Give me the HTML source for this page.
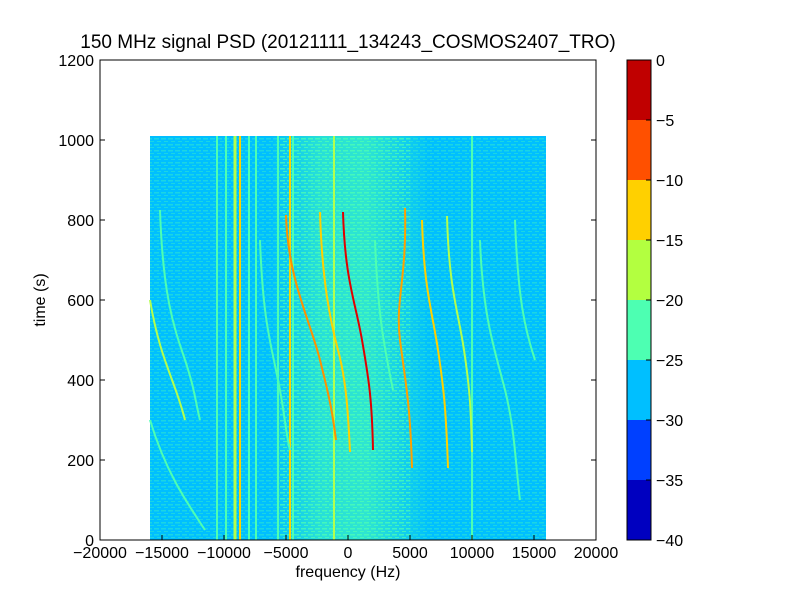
<!DOCTYPE html>
<html><head><meta charset="utf-8"><style>
body{margin:0;background:#fff;width:800px;height:600px;overflow:hidden}
text{font-family:"Liberation Sans",sans-serif;font-size:16px;fill:#000}
text.title{font-size:19px}
</style></head><body>
<svg width="800" height="600" viewBox="0 0 800 600" xmlns="http://www.w3.org/2000/svg">
<defs>
<pattern id="noise" width="7" height="6" patternUnits="userSpaceOnUse">
<rect x="0" y="0" width="5" height="1.5" fill="#4dffb2"/>
<rect x="3" y="3" width="4" height="1" fill="#4dffb2"/>
</pattern>
<linearGradient id="cg" x1="0" x2="1" y1="0" y2="0">
<stop offset="0" stop-color="#4dffb2" stop-opacity="0"/>
<stop offset="0.3" stop-color="#4dffb2" stop-opacity="0.5"/>
<stop offset="0.6" stop-color="#4dffb2" stop-opacity="0.6"/>
<stop offset="1" stop-color="#4dffb2" stop-opacity="0"/>
</linearGradient>
</defs>
<rect x="0" y="0" width="800" height="600" fill="#fff"/>
<rect x="150" y="136" width="396" height="404" fill="#00bfff"/>
<rect x="150" y="136" width="396" height="404" fill="url(#noise)" opacity="0.35"/>
<rect x="270" y="136" width="160" height="404" fill="url(#cg)"/>
<rect x="280" y="136" width="130" height="404" fill="url(#noise)" opacity="0.6"/>
<g stroke="#4dffb2" stroke-width="2">
<line x1="217" y1="136" x2="217" y2="540"/>
<line x1="226" y1="136" x2="226" y2="540"/>
<line x1="235" y1="136" x2="235" y2="540" stroke="#b3ff4d" stroke-width="3"/>
<line x1="240" y1="136" x2="240" y2="540" stroke="#ffd000" stroke-width="2"/>
<line x1="249" y1="136" x2="249" y2="540"/>
<line x1="256" y1="136" x2="256" y2="540"/>
<line x1="278" y1="136" x2="278" y2="540"/>
<line x1="290" y1="136" x2="290" y2="540" stroke="#ffd000"/>
<line x1="293" y1="136" x2="293" y2="540"/>
<line x1="334" y1="136" x2="334" y2="540" stroke="#b3ff4d"/>
<line x1="472" y1="136" x2="472" y2="540"/>
</g>
<g fill="none" stroke-width="2">
<path d="M343 212 C345 280,355 300,362 340 S372 400,373 450" stroke="#e00000"/>
<path d="M320 212 C322 280,330 320,338 350 S348 410,350 452" stroke="#ffd000"/>
<path d="M286 215 C288 280,310 320,320 360 S332 410,336 440" stroke="#ff9000"/>
<path d="M405 208 C407 280,395 300,400 340 S410 400,412 468" stroke="#ffa000"/>
<path d="M422 220 C424 290,432 310,438 350 S446 410,448 468" stroke="#ffd000"/>
<path d="M447 216 C449 290,458 310,464 350 S471 410,472 452" stroke="#b3ff4d"/>
<path d="M480 240 C483 320,495 350,505 390 S515 460,520 500" stroke="#4dffb2"/>
<path d="M515 220 C518 300,525 330,535 360" stroke="#4dffb2"/>
<path d="M160 210 C163 300,175 330,185 360 S195 400,200 420" stroke="#4dffb2"/>
<path d="M150 300 C160 360,175 380,185 420" stroke="#b3ff4d"/>
<path d="M260 240 C263 320,270 340,278 380 S285 430,290 450" stroke="#4dffb2"/>
<path d="M150 420 C165 470,185 500,205 530" stroke="#4dffb2"/>
<path d="M375 240 C378 320,385 350,393 390" stroke="#4dffb2"/>
</g>
<rect x="100" y="60" width="496" height="480" fill="none" stroke="#000" stroke-width="1"/>
<g stroke="#000" stroke-width="1">
<line x1="100" y1="540" x2="100" y2="535"/><line x1="162" y1="540" x2="162" y2="535"/><line x1="224" y1="540" x2="224" y2="535"/><line x1="286" y1="540" x2="286" y2="535"/><line x1="348" y1="540" x2="348" y2="535"/><line x1="410" y1="540" x2="410" y2="535"/><line x1="472" y1="540" x2="472" y2="535"/><line x1="534" y1="540" x2="534" y2="535"/>
<line x1="100" y1="460" x2="105" y2="460"/><line x1="100" y1="380" x2="105" y2="380"/><line x1="100" y1="300" x2="105" y2="300"/><line x1="100" y1="220" x2="105" y2="220"/><line x1="100" y1="140" x2="105" y2="140"/>
<line x1="596" y1="460" x2="591" y2="460"/><line x1="596" y1="380" x2="591" y2="380"/><line x1="596" y1="300" x2="591" y2="300"/><line x1="596" y1="220" x2="591" y2="220"/><line x1="596" y1="140" x2="591" y2="140"/>
</g>
<g text-anchor="middle">
<text x="100" y="558">−20000</text><text x="162" y="558">−15000</text><text x="224" y="558">−10000</text><text x="286" y="558">−5000</text><text x="348" y="558">0</text><text x="410" y="558">5000</text><text x="472" y="558">10000</text><text x="534" y="558">15000</text><text x="596" y="558">20000</text>
<text x="348" y="577">frequency (Hz)</text>
<text class="title" x="348" y="48">150 MHz signal PSD (20121111_134243_COSMOS2407_TRO)</text>
</g>
<g text-anchor="end">
<text x="94" y="546">0</text><text x="94" y="466">200</text><text x="94" y="386">400</text><text x="94" y="306">600</text><text x="94" y="226">800</text><text x="94" y="146">1000</text><text x="94" y="66">1200</text>
</g>
<text transform="translate(45,300) rotate(-90)" text-anchor="middle">time (s)</text>
<rect x="627" y="60" width="24" height="60" fill="#c00000"/>
<rect x="627" y="120" width="24" height="60" fill="#ff5000"/>
<rect x="627" y="180" width="24" height="60" fill="#ffd000"/>
<rect x="627" y="240" width="24" height="60" fill="#b3ff40"/>
<rect x="627" y="300" width="24" height="60" fill="#4dffb2"/>
<rect x="627" y="360" width="24" height="60" fill="#00bfff"/>
<rect x="627" y="420" width="24" height="60" fill="#0040ff"/>
<rect x="627" y="480" width="24" height="60" fill="#0000c0"/>
<rect x="627" y="60" width="24" height="480" fill="none" stroke="#000"/>
<g stroke="#000"><line x1="651" y1="120" x2="646" y2="120"/><line x1="651" y1="180" x2="646" y2="180"/><line x1="651" y1="240" x2="646" y2="240"/><line x1="651" y1="300" x2="646" y2="300"/><line x1="651" y1="360" x2="646" y2="360"/><line x1="651" y1="420" x2="646" y2="420"/><line x1="651" y1="480" x2="646" y2="480"/></g>
<g>
<text x="656" y="66">0</text><text x="656" y="126">−5</text><text x="656" y="186">−10</text><text x="656" y="246">−15</text><text x="656" y="306">−20</text><text x="656" y="366">−25</text><text x="656" y="426">−30</text><text x="656" y="486">−35</text><text x="656" y="546">−40</text>
</g>
</svg>
</body></html>
